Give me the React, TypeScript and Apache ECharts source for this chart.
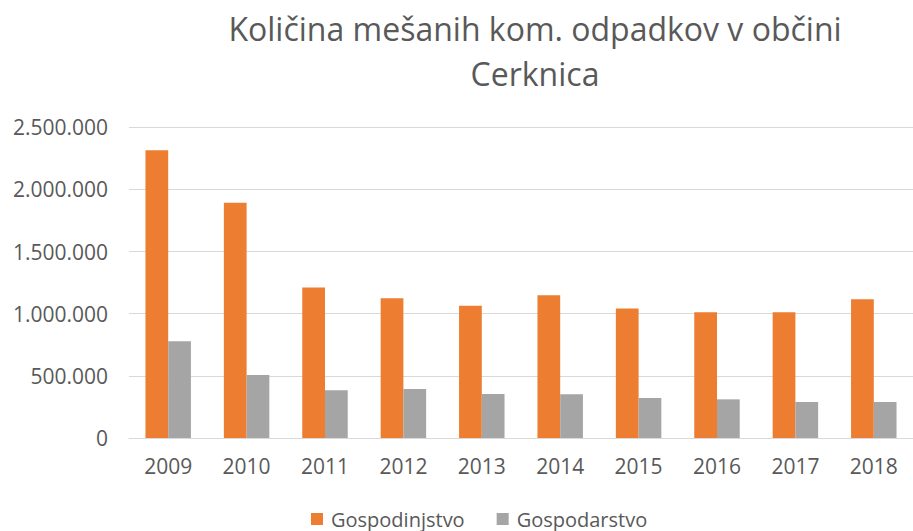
import React, { useEffect, useRef } from "react";
import * as echarts from "echarts";

const years = ["2009", "2010", "2011", "2012", "2013", "2014", "2015", "2016", "2017", "2018"];
const gospodinjstvo = [2316000, 1892000, 1210000, 1125000, 1065000, 1149000, 1041000, 1012000, 1012000, 1117000];
const gospodarstvo = [779000, 507000, 384000, 395000, 354000, 352000, 322000, 311000, 290000, 290000];
const titleLines = ["Količina mešanih kom. odpadkov v občini", "Cerknica"];

const FONT = "'Open Sans', sans-serif";

function fmt(v: number): string {
  return String(Math.round(v)).replace(/\B(?=(\d{3})+(?!\d))/g, ".");
}

export default function App() {
  const ref = useRef<HTMLDivElement>(null);
  useEffect(() => {
    if (!ref.current) return;
    const chart = echarts.init(ref.current, null, { renderer: "svg" });
    chart.setOption({
      animation: false,
      backgroundColor: "#ffffff",
      title: {
        text: titleLines.join("\n"),
        left: 530,
        top: 1,
        textAlign: "center",
        textStyle: {
          fontFamily: FONT,
          fontSize: 32,
          fontWeight: "normal",
          color: "#595959",
          lineHeight: 45,
        },
      },
      legend: {
        left: 306,
        top: 504,
        itemWidth: 12,
        itemHeight: 12,
        itemGap: 32,
        icon: "rect",
        textStyle: {
          fontFamily: FONT,
          fontSize: 20,
          lineHeight: 20,
          color: "#595959",
          padding: [0, 0, 0, 3],
        },
        data: ["Gospodinjstvo", "Gospodarstvo"],
      },
      grid: { left: 129, right: -10.5, top: 127.3, bottom: 93, containLabel: false },
      xAxis: {
        type: "category",
        data: years,
        axisLine: { lineStyle: { color: "#d9d9d9", width: 1 } },
        axisTick: { show: false },
        axisLabel: { fontFamily: FONT, fontSize: 21, color: "#595959", margin: 17 },
      },
      yAxis: {
        type: "value",
        min: 0,
        max: 2500000,
        interval: 500000,
        axisLine: { show: false },
        axisTick: { show: false },
        splitLine: { lineStyle: { color: "#d9d9d9", width: 1 } },
        axisLabel: {
          fontFamily: FONT,
          fontSize: 21,
          color: "#595959",
          margin: 21,
          formatter: (v: number) => fmt(v),
        },
      },
      series: [
        {
          name: "Gospodinjstvo",
          type: "bar",
          data: gospodinjstvo,
          itemStyle: { color: "#ED7D31" },
          barGap: "0%",
          barCategoryGap: "42%",
        },
        {
          name: "Gospodarstvo",
          type: "bar",
          data: gospodarstvo,
          itemStyle: { color: "#A5A5A5" },
          barGap: "0%",
          barCategoryGap: "42%",
        },
      ],
    });
    return () => chart.dispose();
  }, []);
  return (
    <div
      ref={ref}
      style={{ position: "fixed", left: 0, top: 0, width: 913, height: 531, background: "#fff" }}
    />
  );
}
